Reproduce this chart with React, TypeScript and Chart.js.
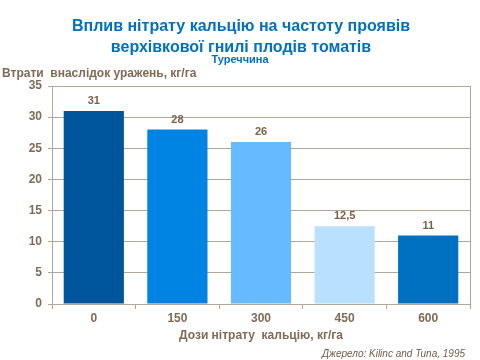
import React, { useEffect, useRef } from "react";
import { Chart, registerables } from "chart.js";

Chart.register(...registerables);

const categories = ["0", "150", "300", "450", "600"];
const values = [31, 28, 26, 12.5, 11];
const valueLabels = ["31", "28", "26", "12,5", "11"];
const barColors = ["#00569A", "#0084E4", "#66BAFF", "#B9E0FF", "#0070C0"];
const titleLines = ["Вплив нітрату кальцію на частоту проявів", "верхівкової гнилі плодів томатів"];
const subtitleText = "Туреччина";
const yAxisLabel = "Втрати  внаслідок уражень, кг/га";
const xAxisLabel = "Дози нітрату  кальцію, кг/га";
const sourceText = "Джерело: Kilinc and Tuna, 1995";

const FONT = "'Liberation Sans', Arial, sans-serif";
const TEXT = "#7F6A55";
const GRID = "#B3A696";

const overlay = {
  id: "overlay",
  afterDraw(chart: any) {
    const { ctx, chartArea } = chart;
    const cx = (chartArea.left + chartArea.right) / 2;
    ctx.save();
    ctx.strokeStyle = GRID;
    ctx.lineWidth = 1;
    ctx.beginPath();
    ctx.moveTo(Math.round(chartArea.right) + 0.5, chartArea.top);
    ctx.lineTo(Math.round(chartArea.right) + 0.5, chartArea.bottom);
    ctx.stroke();

    ctx.textBaseline = "middle";
    ctx.textAlign = "center";
    ctx.fillStyle = "#0070C0";
    ctx.font = `bold 16px ${FONT}`;
    ctx.fillText(titleLines[0], 241, 27);
    ctx.fillText(titleLines[1], 241, 48);
    ctx.font = `bold 11px ${FONT}`;
    ctx.fillText(subtitleText, 240, 60);

    ctx.fillStyle = TEXT;
    ctx.textAlign = "left";
    ctx.font = `bold 12px ${FONT}`;
    ctx.fillText(yAxisLabel, 2, 74);

    ctx.textAlign = "center";
    ctx.fillText(xAxisLabel, cx, 336);

    ctx.textAlign = "right";
    ctx.font = `italic 10px ${FONT}`;
    ctx.fillStyle = "#6E5C4A";
    ctx.fillText(sourceText, 465, 354);

    const meta = chart.getDatasetMeta(0);
    ctx.textAlign = "center";
    ctx.font = `bold 11px ${FONT}`;
    ctx.fillStyle = "#7A6248";
    meta.data.forEach((el: any, i: number) => {
      ctx.fillText(valueLabels[i], el.x, el.y - 10);
    });
    ctx.restore();
  },
};

export default function App() {
  const ref = useRef<HTMLCanvasElement>(null);
  useEffect(() => {
    document.body.style.margin = "0";
    const chart = new Chart(ref.current!, {
      type: "bar",
      data: {
        labels: categories,
        datasets: [
          {
            data: values,
            backgroundColor: barColors,
            borderWidth: 0,
            barPercentage: 0.72,
            categoryPercentage: 1,
          },
        ],
      },
      options: {
        animation: false,
        responsive: false,
        maintainAspectRatio: false,
        layout: { padding: { top: 86, left: 0, right: 10, bottom: 0 } },
        plugins: {
          legend: { display: false },
          title: { display: false },
          tooltip: { enabled: false },
        },
        scales: {
          x: {
            offset: true,
            grid: {
              offset: true,
              drawOnChartArea: false,
              color: GRID,
              tickLength: 5,
            },
            border: { color: GRID },
            ticks: {
              color: TEXT,
              font: { family: FONT, size: 12, weight: "bold" },
              padding: 2,
              maxRotation: 0,
            },
            afterFit(scale: any) {
              scale.height = 56;
            },
          },
          y: {
            min: 0,
            max: 35,
            ticks: {
              stepSize: 5,
              color: TEXT,
              font: { family: FONT, size: 12, weight: "bold" },
              padding: 6,
            },
            grid: { color: GRID, tickLength: 4 },
            border: { color: GRID },
            afterFit(scale: any) {
              scale.width = 52;
            },
          },
        },
      },
      plugins: [overlay],
    });
    return () => chart.destroy();
  }, []);
  return (
    <div style={{ position: "absolute", left: 0, top: 0, width: 480, height: 360, background: "#fff" }}>
      <canvas ref={ref} width={480} height={360} />
    </div>
  );
}
